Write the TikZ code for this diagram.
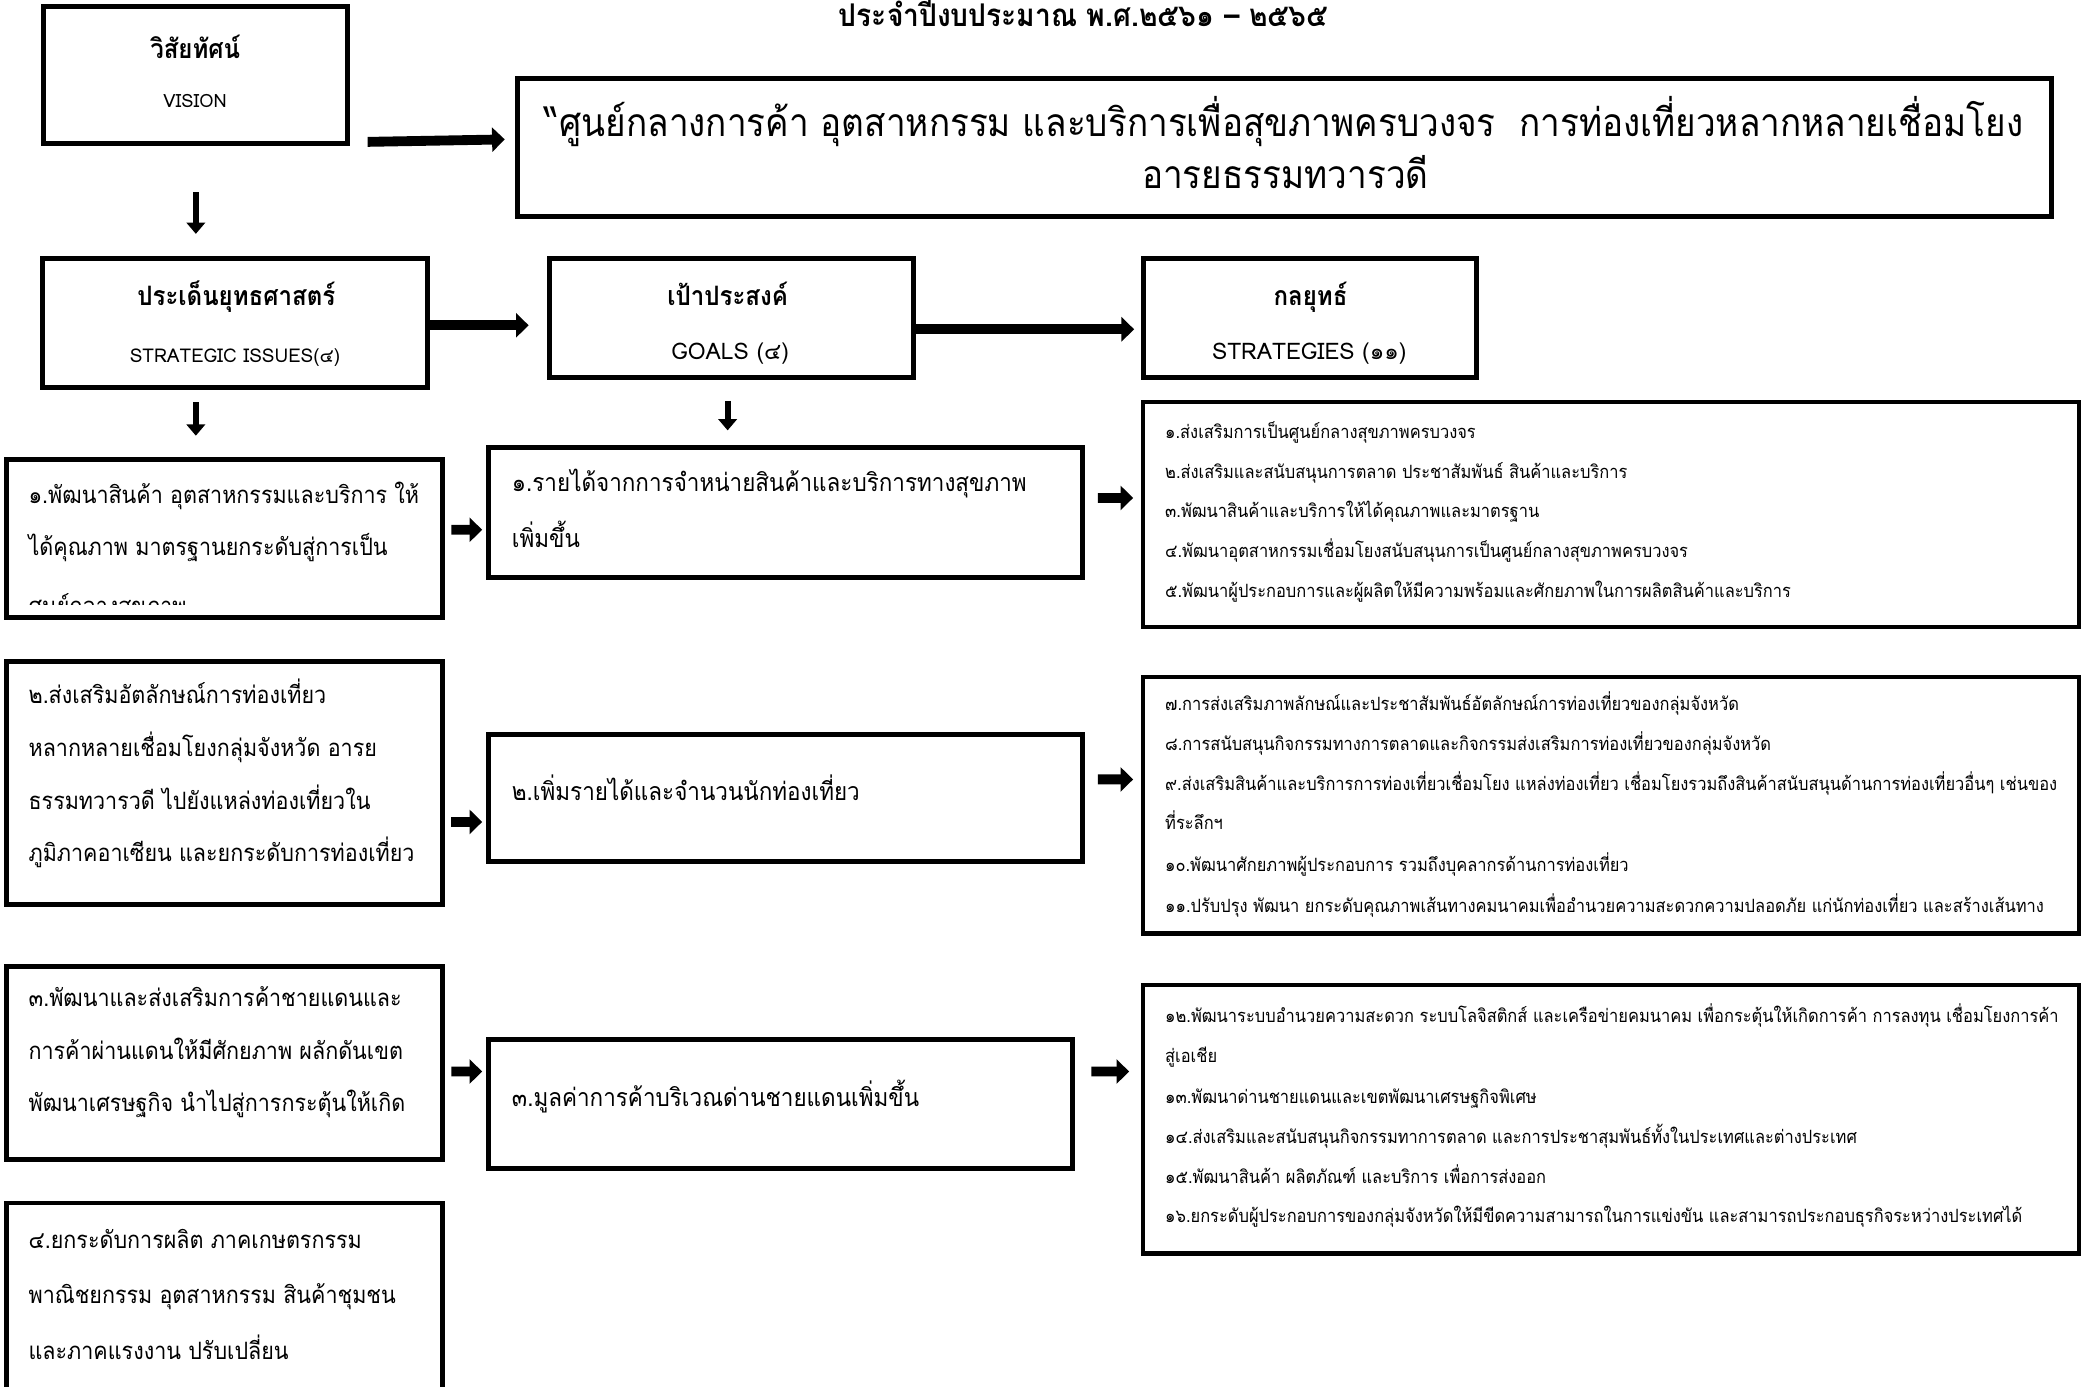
\documentclass[tikz,border=0pt]{standalone}
\usepackage{fontspec}
\newfontfamily\thaifont[Script=Thai]{Loma}
\newfontfamily\thainarrow[Script=Thai,FakeStretch=0.9]{Loma}
\usetikzlibrary{arrows.meta,fit,calc}

\tikzset{
  box/.style={draw, line width=1.4pt, inner sep=0pt},
  listbox/.style={draw, line width=1.2pt, inner sep=0pt},
  bigarrow/.style={line width=2.8pt, -{Triangle[length=3.6pt,width=6.8pt]}},
  downarrow/.style={line width=1.7pt, -{Triangle[length=3.2pt,width=5.2pt]}},
  titletxt/.style={inner sep=0pt, anchor=base, font=\thainarrow\bfseries\fontsize{8.9}{11}\selectfont},
  headtxt/.style={inner sep=0pt, anchor=base, font=\thainarrow\bfseries\fontsize{7.6}{9}\selectfont},
  subtxt/.style={inner sep=0pt, anchor=base, font=\thaifont\fontsize{6.5}{8}\selectfont},
  bigtxt/.style={inner sep=0pt, anchor=base, font=\thainarrow\fontsize{11.1}{13}\selectfont},
  itemtxt/.style={inner sep=0pt, anchor=base west, font=\thainarrow\fontsize{6.8}{9}\selectfont},
  goaltxt/.style={inner sep=0pt, anchor=base west, font=\thainarrow\fontsize{7.1}{9}\selectfont},
  listtxt/.style={inner sep=0pt, anchor=base west, font=\thainarrow\fontsize{5.2}{6}\selectfont},
}

\begin{document}
\begin{tikzpicture}[x=0.13278mm,y=-0.13278mm]
\useasboundingbox (0,0) rectangle (1568,1044);

% heading
\node[titletxt] (title) at (816,20) {ประจำปีงบประมาณ พ.ศ.๒๕๖๑ – ๒๕๖๕};

% vision
\node[box, fit={(33,5) (262,108)}] (vis) {};
\node[headtxt] (vish) at (147,44) {วิสัยทัศน์};
\node[subtxt, font=\thaifont\fontsize{5.2}{6}\selectfont] (visl) at (147,81) {VISION};
\node[box, fit={(390,59) (1545,163)}] (stm) {};
\node[bigtxt] (stm1) at (967,103) {“ศูนย์กลางการค้า อุตสาหกรรม และบริการเพื่อสุขภาพครบวงจร\ \ การท่องเที่ยวหลากหลายเชื่อมโยง};
\node[bigtxt] (stm2) at (968,142) {อารยธรรมทวารวดี};

% column heads
\node[box, fit={(32,195) (322,292)}] (iss) {};
\node[headtxt] (issh) at (178,230) {ประเด็นยุทธศาสตร์};
\node[subtxt, font=\thaifont\fontsize{5.4}{6}\selectfont] (issl) at (177,273) {STRATEGIC ISSUES(๔)};
\node[box, fit={(414,195) (688,284)}] (gol) {};
\node[headtxt] (golh) at (548,230) {เป้าประสงค์};
\node[subtxt] (goll) at (550,271) {GOALS (๔)};
\node[box, fit={(861,195) (1112,284)}] (stg) {};
\node[headtxt] (stgh) at (987,230) {กลยุทธ์};
\node[subtxt] (stgl) at (986,271) {STRATEGIES (๑๑)};

% row 1
\node[box, fit={(5,346) (333,465)}] (i1) {};
\node[itemtxt] (i1a) at (21,379) {๑.พัฒนาสินค้า อุตสาหกรรมและบริการ ให้};
\node[itemtxt] (i1b) at (21,418) {ได้คุณภาพ มาตรฐานยกระดับสู่การเป็น};
\begin{scope}
  \clip (5,346) rectangle (333,455);
  \node[itemtxt] (i1c) at (21,463) {ศูนย์กลางสุขภาพ};
\end{scope}
\node[box, fit={(368,337) (815,435)}] (g1) {};
\node[goaltxt] (g1a) at (385,370) {๑.รายได้จากการจำหน่ายสินค้าและบริการทางสุขภาพ};
\node[goaltxt] (g1b) at (385,412) {เพิ่มขึ้น};
\node[listbox, fit={(861,303) (1566,472)}] (s1) {};
\node[listtxt] (s1a) at (877,330) {๑.ส่งเสริมการเป็นศูนย์กลางสุขภาพครบวงจร};
\node[listtxt] (s1b) at (877,360) {๒.ส่งเสริมและสนับสนุนการตลาด ประชาสัมพันธ์ สินค้าและบริการ};
\node[listtxt] (s1c) at (877,390) {๓.พัฒนาสินค้าและบริการให้ได้คุณภาพและมาตรฐาน};
\node[listtxt] (s1d) at (877,420) {๔.พัฒนาอุตสาหกรรมเชื่อมโยงสนับสนุนการเป็นศูนย์กลางสุขภาพครบวงจร};
\node[listtxt] (s1e) at (877,450) {๕.พัฒนาผู้ประกอบการและผู้ผลิตให้มีความพร้อมและศักยภาพในการผลิตสินค้าและบริการ};

% row 2
\node[box, fit={(5,498) (333,681)}] (i2) {};
\node[itemtxt] (i2a) at (21,530) {๒.ส่งเสริมอัตลักษณ์การท่องเที่ยว};
\node[itemtxt] (i2b) at (21,570) {หลากหลายเชื่อมโยงกลุ่มจังหวัด อารย};
\node[itemtxt] (i2c) at (21,610) {ธรรมทวารวดี ไปยังแหล่งท่องเที่ยวใน};
\node[itemtxt] (i2d) at (21,649) {ภูมิภาคอาเซียน และยกระดับการท่องเที่ยว};
\node[box, fit={(368,553) (815,649)}] (g2) {};
\node[goaltxt] (g2a) at (385,603) {๒.เพิ่มรายได้และจำนวนนักท่องเที่ยว};
\node[listbox, fit={(861,510) (1566,703)}] (s2) {};
\node[listtxt] (s2a) at (877,535) {๗.การส่งเสริมภาพลักษณ์และประชาสัมพันธ์อัตลักษณ์การท่องเที่ยวของกลุ่มจังหวัด};
\node[listtxt] (s2b) at (877,565) {๘.การสนับสนุนกิจกรรมทางการตลาดและกิจกรรมส่งเสริมการท่องเที่ยวของกลุ่มจังหวัด};
\node[listtxt] (s2c) at (877,595) {๙.ส่งเสริมสินค้าและบริการการท่องเที่ยวเชื่อมโยง แหล่งท่องเที่ยว เชื่อมโยงรวมถึงสินค้าสนับสนุนด้านการท่องเที่ยวอื่นๆ เช่นของ};
\node[listtxt] (s2d) at (877,625) {ที่ระลึกฯ};
\node[listtxt] (s2e) at (877,656) {๑๐.พัฒนาศักยภาพผู้ประกอบการ รวมถึงบุคลากรด้านการท่องเที่ยว};
\node[listtxt] (s2f) at (877,687) {๑๑.ปรับปรุง พัฒนา ยกระดับคุณภาพเส้นทางคมนาคมเพื่ออำนวยความสะดวกความปลอดภัย แก่นักท่องเที่ยว และสร้างเส้นทาง};

% row 3
\node[box, fit={(5,728) (333,873)}] (i3) {};
\node[itemtxt] (i3a) at (21,758) {๓.พัฒนาและส่งเสริมการค้าชายแดนและ};
\node[itemtxt] (i3b) at (21,798) {การค้าผ่านแดนให้มีศักยภาพ ผลักดันเขต};
\node[itemtxt] (i3c) at (21,837) {พัฒนาเศรษฐกิจ นำไปสู่การกระตุ้นให้เกิด};
\node[box, fit={(368,783) (808,880)}] (g3) {};
\node[goaltxt] (g3a) at (385,833) {๓.มูลค่าการค้าบริเวณด่านชายแดนเพิ่มขึ้น};
\node[listbox, fit={(861,742) (1566,944)}] (s3) {};
\node[listtxt] (s3a) at (877,770) {๑๒.พัฒนาระบบอำนวยความสะดวก ระบบโลจิสติกส์ และเครือข่ายคมนาคม เพื่อกระตุ้นให้เกิดการค้า การลงทุน เชื่อมโยงการค้า};
\node[listtxt] (s3b) at (877,800) {สู่เอเชีย};
\node[listtxt] (s3c) at (877,831) {๑๓.พัฒนาด่านชายแดนและเขตพัฒนาเศรษฐกิจพิเศษ};
\node[listtxt] (s3d) at (877,861) {๑๔.ส่งเสริมและสนับสนุนกิจกรรมทาการตลาด และการประชาสุมพันธ์ทั้งในประเทศและต่างประเทศ};
\node[listtxt] (s3e) at (877,891) {๑๕.พัฒนาสินค้า ผลิตภัณฑ์ และบริการ เพื่อการส่งออก};
\node[listtxt] (s3f) at (877,921) {๑๖.ยกระดับผู้ประกอบการของกลุ่มจังหวัดให้มีขีดความสามารถในการแข่งขัน และสามารถประกอบธุรกิจระหว่างประเทศได้};

% row 4
\node[box, fit={(5,906) (333,1070)}] (i4) {};
\node[itemtxt] (i4a) at (21,940) {๔.ยกระดับการผลิต ภาคเกษตรกรรม};
\node[itemtxt] (i4b) at (21,982) {พาณิชยกรรม อุตสาหกรรม สินค้าชุมชน};
\node[itemtxt] (i4c) at (21,1024) {และภาคแรงงาน ปรับเปลี่ยน};

% arrows
\draw[bigarrow] ($(vis.south east)+(13,-3)$) -- ($(stm.west)+(-8,-6)$);
\draw[downarrow] ($(vis.south)+(0,35)$) -- ($(vis.south |- iss.north)+(0,-17)$);
\draw[bigarrow] ($(iss.east)+(0,1.5)$) -- ($(gol.west)+(-14,5.5)$);
\draw[bigarrow] ($(gol.east)+(0,8.5)$) -- ($(stg.west)+(-5,8.5)$);
\draw[downarrow] ($(iss.south -| vis.south)+(0,9)$) -- ($(i1.north -| vis.south)+(0,-16)$);
\draw[downarrow] ($(gol.south)+(-3,16)$) -- ($(g1.north -| gol.south)+(-3,-11)$);
\draw[bigarrow] ($(i1.east)+(5,-6.5)$) -- ($(g1.west)+(-3,13)$);
\draw[bigarrow] ($(g1.east)+(10,-11)$) -- ($(s1.west)+(-6,-12.5)$);
\draw[bigarrow] ($(i2.east)+(5,29.5)$) -- ($(g2.west)+(-3,18)$);
\draw[bigarrow] ($(g2.east)+(10,-14)$) -- ($(s2.west)+(-6,-19.5)$);
\draw[bigarrow] ($(i3.east)+(5,6.5)$) -- ($(g3.west)+(-3,-24.5)$);
\draw[bigarrow] ($(g3.east)+(12,-24.5)$) -- ($(s3.west)+(-9,-36)$);
\end{tikzpicture}
\end{document}
